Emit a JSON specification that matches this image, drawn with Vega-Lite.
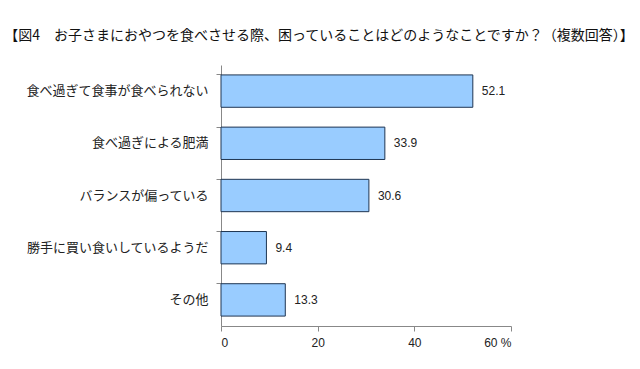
{
  "$schema": "https://vega.github.io/schema/vega-lite/v6.json",
  "autosize": "none",
  "width": 290,
  "height": 261,
  "padding": {"left": 221, "top": 65, "right": 129, "bottom": 43},
  "background": "#ffffff",
  "config": {"view": {"stroke": null}, "font": "Noto Sans CJK JP"},
  "title": {
    "text": "【図4　お子さまにおやつを食べさせる際、困っていることはどのようなことですか？（複数回答）】",
    "anchor": "middle",
    "dx": -47,
    "offset": 22,
    "fontSize": 14,
    "fontWeight": "normal",
    "color": "#111111",
    "font": "Noto Sans CJK JP"
  },
  "data": {
    "values": [
      {"item": "食べ過ぎて食事が食べられない", "value": 52.1},
      {"item": "食べ過ぎによる肥満", "value": 33.9},
      {"item": "バランスが偏っている", "value": 30.6},
      {"item": "勝手に買い食いしているようだ", "value": 9.4},
      {"item": "その他", "value": 13.3}
    ]
  },
  "encoding": {
    "y": {
      "field": "item",
      "type": "nominal",
      "sort": null,
      "scale": {"paddingInner": 0.38, "paddingOuter": 0.19},
      "axis": {
        "title": null,
        "bandPosition": 0,
        "domainColor": "#888888",
        "tickColor": "#888888",
        "tickSize": 5,
        "labelFontSize": 13,
        "labelLimit": 0,
        "labelColor": "#222222",
        "labelPadding": 8,
        "labelFont": "Noto Sans CJK JP"
      }
    },
    "x": {
      "field": "value",
      "type": "quantitative",
      "scale": {"domain": [0, 60]},
      "axis": {
        "title": null,
        "values": [0, 20, 40, 60],
        "grid": false,
        "domainColor": "#888888",
        "tickColor": "#888888",
        "tickSize": 5,
        "labelFontSize": 12,
        "labelColor": "#222222",
        "labelPadding": 6,
        "labelExpr": "datum.value == 60 ? '60 %' : datum.label",
        "labelFont": "Liberation Sans"
      }
    }
  },
  "layer": [
    {
      "mark": {"type": "bar", "fill": "#99ccff", "stroke": "#1f3552", "strokeWidth": 1}
    },
    {
      "mark": {"type": "text", "align": "left", "dx": 9, "fontSize": 12, "color": "#222222", "font": "Liberation Sans"},
      "encoding": {"text": {"field": "value", "type": "quantitative", "format": ".1f"}}
    }
  ]
}
